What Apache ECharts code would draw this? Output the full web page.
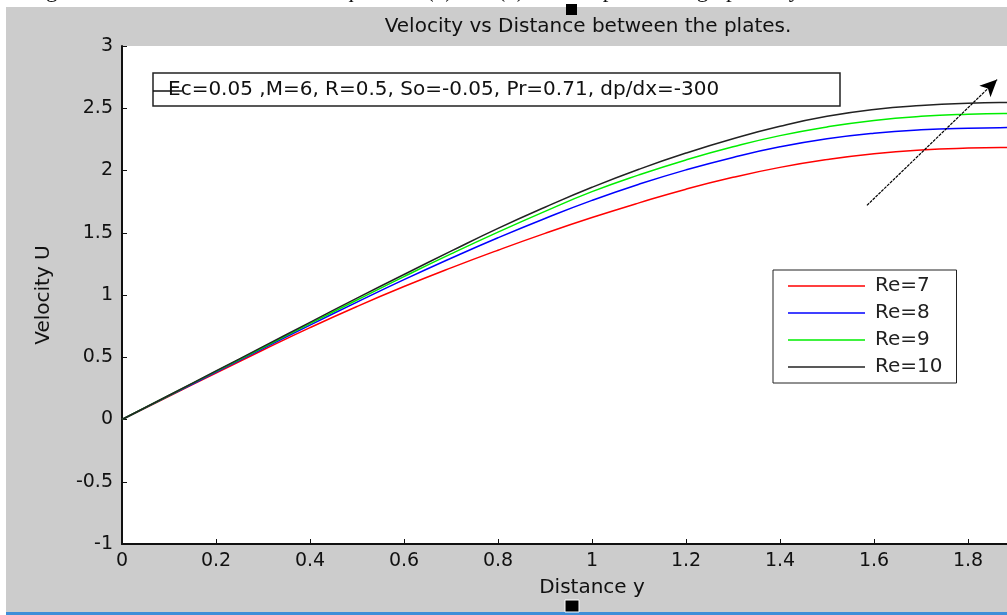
<!DOCTYPE html>
<html>
<head>
<meta charset="utf-8">
<script src="https://cdn.jsdelivr.net/npm/echarts@6/dist/echarts.min.js"></script>
<style>
  html, body { margin: 0; padding: 0; background: #fff; }
  #chart { width: 1007px; height: 615px; }
</style>
</head>
<body>
<div id="chart"></div>
<script>
// distance between the plates (x) and velocity U for each Re
var distY = [0, 0.1, 0.2, 0.3, 0.4, 0.5, 0.6, 0.7, 0.8, 0.9, 1.0, 1.1, 1.2, 1.3, 1.4, 1.5, 1.6, 1.7, 1.8, 1.9, 2.0];
var re7  = [0, 0.187, 0.373, 0.558, 0.738, 0.908, 1.068, 1.218, 1.36, 1.495, 1.622, 1.74, 1.85, 1.945, 2.025, 2.088, 2.135, 2.165, 2.18, 2.186, 2.188];
var re8  = [0, 0.19, 0.38, 0.57, 0.758, 0.943, 1.123, 1.295, 1.46, 1.615, 1.76, 1.89, 2.005, 2.105, 2.19, 2.255, 2.30, 2.327, 2.34, 2.345, 2.347];
var re9  = [0, 0.193, 0.386, 0.578, 0.77, 0.96, 1.148, 1.33, 1.505, 1.672, 1.83, 1.965, 2.085, 2.19, 2.28, 2.35, 2.402, 2.435, 2.452, 2.459, 2.461];
var re10 = [0, 0.195, 0.39, 0.585, 0.78, 0.975, 1.165, 1.352, 1.535, 1.705, 1.865, 2.01, 2.14, 2.255, 2.355, 2.435, 2.49, 2.522, 2.54, 2.547, 2.55];

var seriesNames = ['Re=7', 'Re=8', 'Re=9', 'Re=10'];
var seriesColors = ['#ff0000', '#0000ff', '#00ee00', '#222222'];
var seriesValues = [re7, re8, re9, re10];

// arrow drawn across the curves (in data units)
var arrowFrom = [1.585, 1.72];
var arrowTo = [1.862, 2.73];

var FONT = '"DejaVu Sans", Verdana, sans-serif';

function pairs(xs, ys) {
  return xs.map(function (x, i) { return [x, ys[i]]; });
}

var chart = echarts.init(document.getElementById('chart'));

var series = seriesValues.map(function (vals, i) {
  var s = {
    name: seriesNames[i],
    type: 'line',
    data: pairs(distY, vals),
    smooth: true,
    symbol: 'none',
    lineStyle: { color: seriesColors[i], width: 1.5 },
    itemStyle: { color: seriesColors[i] },
    z: 3
  };
  if (i === 3) {
    s.markLine = {
      silent: true,
      symbol: ['none', 'arrow'],
      symbolSize: [12, 17],
      label: { show: false },
      lineStyle: { color: '#000', width: 1.2, type: [3, 1] },
      data: [[{ coord: arrowFrom }, { coord: arrowTo }]]
    };
  }
  return s;
});

var option = {
  backgroundColor: '#cccccc',
  animation: false,
  grid: {
    show: true,
    left: 122,
    top: 46,
    width: 940,
    height: 498,
    containLabel: false,
    outerBoundsMode: 'none',
    backgroundColor: '#ffffff',
    borderWidth: 0
  },
  legend: {
    orient: 'vertical',
    left: 773,
    top: 270,
    data: seriesNames,
    icon: 'rect',
    backgroundColor: '#fff',
    borderColor: '#222',
    borderWidth: 1,
    borderRadius: 0,
    padding: [6, 14, 6, 15],
    itemWidth: 77,
    itemHeight: 1.5,
    itemGap: 7,
    textStyle: { fontFamily: FONT, fontSize: 20, color: '#222', lineHeight: 20, padding: [0, 0, 0, 5] }
  },
  xAxis: {
    type: 'value',
    min: 0,
    max: 2,
    interval: 0.2,
    name: 'Distance y',
    nameLocation: 'middle',
    nameGap: 34,
    nameTextStyle: { fontFamily: FONT, fontSize: 20, color: '#111' },
    axisLine: { onZero: false, lineStyle: { color: '#111', width: 2 } },
    axisTick: { inside: true, length: 5, lineStyle: { color: '#111' } },
    axisLabel: { fontFamily: FONT, fontSize: 19, color: '#111', margin: 8 },
    splitLine: { show: false }
  },
  yAxis: {
    type: 'value',
    min: -1,
    max: 3,
    interval: 0.5,
    name: 'Velocity U',
    nameLocation: 'middle',
    nameGap: 68,
    nameTextStyle: { fontFamily: FONT, fontSize: 20, color: '#111' },
    axisLine: { onZero: false, lineStyle: { color: '#111', width: 2 } },
    axisTick: { inside: true, length: 5, lineStyle: { color: '#111' } },
    axisLabel: { fontFamily: FONT, fontSize: 19, color: '#111', margin: 9 },
    splitLine: { show: false }
  },
  graphic: [
    // white page margins around the figure
    { type: 'rect', shape: { x: 0, y: 0, width: 1007, height: 7 }, style: { fill: '#fff' }, z: 50 },
    { type: 'rect', shape: { x: 0, y: 0, width: 6, height: 615 }, style: { fill: '#fff' }, z: 50 },
    { type: 'rect', shape: { x: 6, y: 612, width: 1001, height: 3 }, style: { fill: '#3f8ed8' }, z: 50 },
    // cut-off line of document text above the figure
    {
      type: 'text', x: -32, y: 2, z: 51,
      style: {
        text: 'following are the results obtained from equations (8) and (9) and are presented graphically as follows:',
        font: '23px "Liberation Serif", "Times New Roman", serif',
        fill: '#111', verticalAlign: 'bottom'
      }
    },
    // selection handles
    { type: 'rect', shape: { x: 566, y: 4, width: 11, height: 11 }, style: { fill: '#000' }, z: 52 },
    { type: 'rect', shape: { x: 565, y: 600, width: 14, height: 12 }, style: { fill: '#000', stroke: '#fff', lineWidth: 1 }, z: 52 },
    // title
    {
      type: 'text', x: 588, y: 27, z: 52,
      style: {
        text: 'Velocity vs Distance between the plates.',
        font: '20px ' + FONT, fill: '#111', align: 'center', verticalAlign: 'middle'
      }
    },
    // parameter text box
    {
      type: 'rect', z: 40,
      shape: { x: 153, y: 73, width: 687, height: 33 },
      style: { fill: '#fff', stroke: '#222', lineWidth: 1.5 }
    },
    { type: 'line', z: 41, shape: { x1: 153, y1: 91, x2: 182, y2: 91 }, style: { stroke: '#111', lineWidth: 1.5 } },
    {
      type: 'text', x: 168, y: 90, z: 41,
      style: {
        text: 'Ec=0.05 ,M=6, R=0.5, So=-0.05, Pr=0.71, dp/dx=-300',
        font: '20px ' + FONT, fill: '#111', verticalAlign: 'middle'
      }
    }
  ],
  series: series
};

chart.setOption(option);
</script>
</body>
</html>
